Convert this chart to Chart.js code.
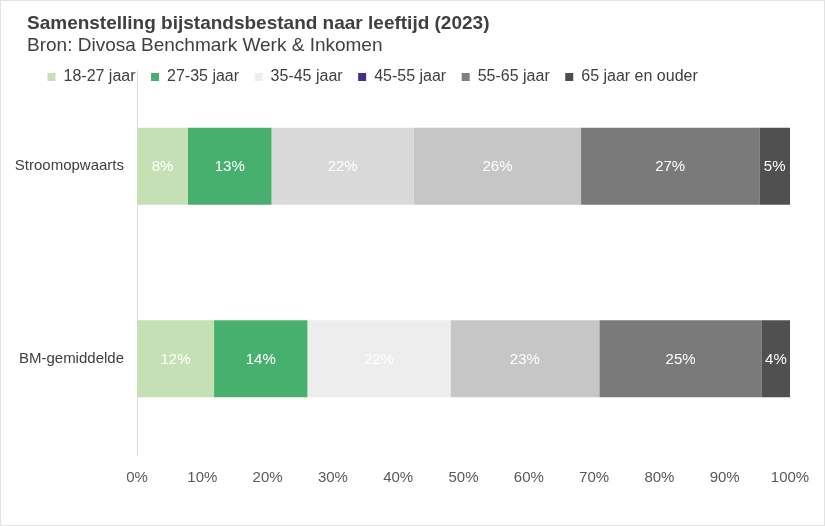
<!DOCTYPE html>
<html>
<head>
<meta charset="utf-8">
<title>Samenstelling bijstandsbestand naar leeftijd (2023)</title>
<script src="https://cdn.jsdelivr.net/npm/chart.js@4.4.1/dist/chart.umd.min.js"></script>
<style>
    body { margin: 0; background: #fff; font-family: "Liberation Sans", Arial, sans-serif; }
    .chartContainer { position: relative; width: 825px; height: 526px; overflow: hidden; background: #fff; }
    .chartContainer canvas { position: absolute; left: 0; top: 0; }
    .title { position: absolute; left: 27px; top: 12px; font-size: 19px; line-height: 22px; font-weight: bold; color: #404040; white-space: nowrap; }
    .subtitle { position: absolute; left: 27px; top: 34px; font-size: 19px; line-height: 22px; color: #404040; white-space: nowrap; }
    .frame { position: absolute; left: 0; top: 0; right: 0; bottom: 0; border: 1px solid #e2e2e2; pointer-events: none; }
</style>
</head>
<body>
<div class="chartContainer">
    <canvas id="ageChart" width="825" height="526"></canvas>
    <div class="title">Samenstelling bijstandsbestand naar leeftijd (2023)</div>
    <div class="subtitle">Bron: Divosa Benchmark Werk &amp; Inkomen</div>
    <div class="frame"></div>
</div>
<script>
    //Data (percentages per age group)
    const categories = ["Stroomopwaarts", "BM-gemiddelde"];
    const ageGroups = ["18-27 jaar", "27-35 jaar", "35-45 jaar", "45-55 jaar", "55-65 jaar", "65 jaar en ouder"];
    const share18to27 = [7.8, 11.8];
    const share27to35 = [12.8, 14.3];
    const share35to45 = [21.8, 21.9];
    const share45to55 = [25.6, 22.8];
    const share55to65 = [27.3, 24.9];
    const share65plus = [4.7, 4.3];
    const xTicks = [0, 10, 20, 30, 40, 50, 60, 70, 80, 90, 100];

    const series = [share18to27, share27to35, share35to45, share45to55, share55to65, share65plus];

    //Bar colours, and the colours shown in the legend (45-55 is purple there)
    const barColors = ["#c5e0b4", "#48b06e", ["#d9d9d9", "#ededed"], "#c6c6c6", "#7a7a7a", "#505050"];
    const legendColors = ["#c5e0b4", "#48b06e", "#eeeeee", "#4b2d7f", "#808080", "#4d4d4d"];

    Chart.defaults.font.family = '"Liberation Sans", Arial, sans-serif';

    //Write the rounded percentage in the middle of each bar segment
    const barLabels = {
        id: "barLabels",
        afterDatasetsDraw(chart) {
            const ctx = chart.ctx;
            ctx.save();
            ctx.font = '15px "Liberation Sans", Arial, sans-serif';
            ctx.fillStyle = "#ffffff";
            ctx.textAlign = "center";
            ctx.textBaseline = "middle";
            chart.data.datasets.forEach((dataset, i) => {
                chart.getDatasetMeta(i).data.forEach((bar, j) => {
                    const pos = bar.getCenterPoint();
                    ctx.fillText(Math.round(dataset.data[j]) + "%", pos.x, pos.y + 1);
                });
            });
            ctx.restore();
        }
    };

    //The legend overlaps the top of the plot area: keep its layout box small,
    //then give it back its full size (and left offset) for drawing
    const legendPlacement = {
        id: "legendPlacement",
        beforeInit(chart) {
            const fit = chart.legend.fit;
            chart.legend.fit = function () {
                fit.call(this);
                this.fullHeight = this.height;
                this.height = 16.5;
            };
        },
        afterLayout(chart) {
            const legend = chart.legend;
            legend.left = 32;
            legend.bottom = legend.top + legend.fullHeight;
            legend.height = legend.fullHeight;
        }
    };

    const datasets = series.map((values, i) => ({
        label: ageGroups[i],
        data: values,
        backgroundColor: barColors[i],
        borderWidth: 0,
        categoryPercentage: 1,
        barPercentage: 0.4
    }));

    new Chart(document.getElementById("ageChart"), {
        type: "bar",
        data: {
            labels: categories,
            datasets: datasets
        },
        options: {
            indexAxis: "y",
            responsive: false,
            animation: false,
            devicePixelRatio: 1,
            layout: {
                padding: { top: 53.5, left: 8, right: 35, bottom: 26 }
            },
            plugins: {
                tooltip: { enabled: false },
                legend: {
                    position: "top",
                    align: "start",
                    labels: {
                        boxWidth: 8,
                        boxHeight: 8,
                        padding: 15.5,
                        color: "#404040",
                        font: { size: 16 },
                        generateLabels(chart) {
                            const items = Chart.defaults.plugins.legend.labels.generateLabels(chart);
                            items.forEach((item, i) => {
                                item.fillStyle = legendColors[i];
                                item.strokeStyle = legendColors[i];
                                item.lineWidth = 0;
                            });
                            return items;
                        }
                    }
                }
            },
            scales: {
                x: {
                    stacked: true,
                    min: 0,
                    max: 100,
                    afterBuildTicks: (scale) => {
                        scale.ticks = xTicks.map((v) => ({ value: v }));
                    },
                    grid: { display: false, drawTicks: false },
                    border: { display: false },
                    ticks: {
                        padding: 13.5,
                        color: "#595959",
                        font: { size: 15 },
                        callback: (value) => value + "%"
                    }
                },
                y: {
                    stacked: true,
                    afterFit: (scale) => {
                        scale.width = 129;
                    },
                    grid: { display: false, drawTicks: false },
                    border: { display: true, color: "#d9d9d9", width: 1 },
                    ticks: {
                        padding: 13,
                        color: "#404040",
                        font: { size: 15 }
                    }
                }
            }
        },
        plugins: [barLabels, legendPlacement]
    });
</script>
</body>
</html>
